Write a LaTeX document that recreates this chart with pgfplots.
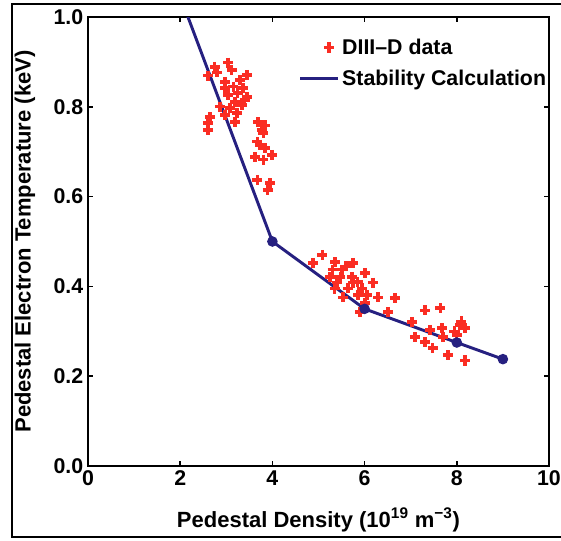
\documentclass[border=0pt]{standalone}
\usepackage{fontspec}
\setmainfont{Liberation Sans}
\usepackage{pgfplots}
\pgfplotsset{compat=1.18}

\definecolor{dotred}{RGB}{250,45,35}
\definecolor{calcblue}{RGB}{38,32,128}

\pgfplotsset{
  dotlegend/.style={legend image code/.code={\draw[#1] plot coordinates {(0.98cm,0cm)};}},
  linelegend/.style={legend image code/.code={\draw[#1, mark=none] (0.23cm,0cm) -- (1.22cm,0cm);}},
}

\begin{document}
\begin{tikzpicture}
  \begin{axis}[
      at={(0,0)}, anchor=south west,
      scale only axis,
      width=345.75pt, height=336.75pt,
      xmin=0, xmax=10, ymin=0, ymax=1.0,
      xtick={0,2,4,6,8,10},
      ytick={0,0.2,0.4,0.6,0.8,1.0},
      yticklabel style={/pgf/number format/.cd, fixed, fixed zerofill, precision=1},
      /pgf/number format/assume math mode=true,
      tick align=inside,
      major tick length=4pt,
      axis line style={line width=1.4pt},
      every tick/.style={line width=1.1pt, black},
      tick label style={font=\fontsize{16}{18}\selectfont\bfseries},
      xlabel={Pedestal Density (10\textsuperscript{19} m\textsuperscript{−3})},
      ylabel={Pedestal Electron Temperature (keV)},
      every axis x label/.style={at={(axis description cs:0.5,-0.12)}, anchor=center,
        font=\fontsize{16.5}{20}\selectfont\bfseries},
      every axis y label/.style={at={(axis description cs:-0.137,0.5)}, rotate=90, anchor=center,
        font=\fontsize{16.5}{20}\selectfont\bfseries},
      legend style={draw=none, fill=none, at={(axis description cs:1.0,0.958)},
        anchor=north east, font=\fontsize{16}{20}\selectfont\bfseries,
        row sep=6pt, inner sep=0pt, cells={anchor=west}},
    ]
    \addplot[only marks, mark=+, mark size=3.8pt, color=dotred,
      mark options={line width=2.5pt}, dotlegend]
      coordinates {
        (2.75,0.889) (2.80,0.877) (3.04,0.898) (3.12,0.882) (2.60,0.869)
        (3.45,0.871) (2.97,0.855) (2.97,0.842) (3.36,0.842) (3.25,0.831)
        (3.04,0.826) (3.45,0.822) (3.19,0.811) (2.86,0.800) (3.08,0.797)
        (3.34,0.804) (3.23,0.786) (2.97,0.782) (3.19,0.766) (2.65,0.777)
        (2.60,0.764) (2.60,0.748) (3.69,0.766) (3.84,0.759) (3.77,0.748)
        (3.30,0.860) (3.15,0.845) (3.40,0.815)
        (3.80,0.742) (3.67,0.722) (3.73,0.715) (3.84,0.708) (3.62,0.688)
        (3.80,0.682) (3.99,0.693) (3.67,0.637) (3.95,0.630) (3.90,0.615)
        (5.08,0.470) (4.88,0.452) (5.36,0.454) (5.75,0.452) (5.31,0.437)
        (5.51,0.437) (5.25,0.421) (5.47,0.421) (5.73,0.421) (6.01,0.430)
        (5.40,0.408) (5.75,0.408) (6.18,0.408) (5.64,0.396) (5.94,0.396)
        (5.53,0.376) (5.86,0.381) (6.05,0.381) (6.01,0.363) (5.90,0.343)
        (6.66,0.374) (6.51,0.343) (6.29,0.376) (5.35,0.395) (5.60,0.445)
        (5.85,0.410)
        (7.03,0.321) (7.31,0.347) (7.64,0.352) (7.42,0.303) (7.68,0.307)
        (8.07,0.314) (8.18,0.307) (7.09,0.287) (7.31,0.276) (7.70,0.287)
        (8.00,0.292) (7.48,0.263) (7.81,0.247) (8.18,0.235) (8.10,0.322)
        (7.95,0.300)
      };
    \addlegendentry{DIII–D data}
    \addplot[color=calcblue, line width=2.2pt, mark=*, mark size=2.8pt,
      mark indices={1,2,3,4}, linelegend]
      coordinates {(2,1.046) (4,0.5) (6,0.35) (8,0.275) (9,0.238)};
    \addlegendentry{Stability Calculation}
  \end{axis}
  \pgfresetboundingbox
  \path[use as bounding box] (-66pt,-55.5pt) rectangle (354.75pt,349.5pt);
  \draw[line width=0.9pt] (360pt,346.5pt) -- (-57pt,346.5pt) -- (-57pt,-53.25pt) -- (360pt,-53.25pt);
\end{tikzpicture}
\end{document}
